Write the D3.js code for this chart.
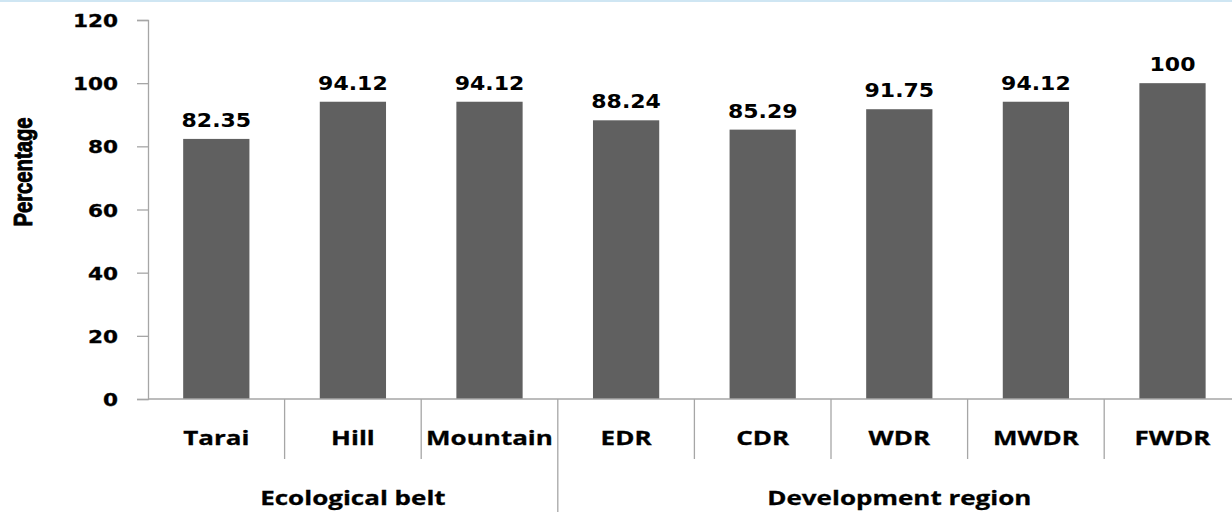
<!DOCTYPE html>
<html lang="en">
<head>
<meta charset="utf-8">
<script src="https://d3js.org/d3.v7.min.js"></script>
<title>Percentage by ecological belt and development region</title>
<style>
	body { margin:0; background:#fff; }
	.bar { fill:#606060; }
	.axisline { stroke:#a6a6a6; stroke-width:1.3px; fill:none; }
	.tick-label { font-family:"DejaVu Sans", Verdana, sans-serif; font-weight:bold; font-size:18px; fill:#000; stroke:#000; stroke-width:0.3px; }
	.value-label { font-family:"DejaVu Sans", Verdana, sans-serif; font-weight:bold; font-size:20px; fill:#000; }
	.cat-label { font-family:"Open Sans", Calibri, sans-serif; font-weight:bold; font-size:20px; fill:#000; stroke:#000; stroke-width:0.3px; }
	.y-title { font-family:"Liberation Sans", Arial, sans-serif; font-weight:bold; font-size:26px; fill:#000; stroke:#000; stroke-width:0.9px; }
</style>
</head>
<body>
<script>
var categories = ["Tarai","Hill","Mountain","EDR","CDR","WDR","MWDR","FWDR"];
var values = [82.35, 94.12, 94.12, 88.24, 85.29, 91.75, 94.12, 100];
var groups = ["Ecological belt","Development region"];
var groupSizes = [3, 5];
var yTicks = [0, 20, 40, 60, 80, 100, 120];

var W = 1232, H = 512;
var plotLeft = 148, band = 136.6;
var plotTop = 20, plotBottom = 399;

var svg = d3.select("body").append("svg")
	.attr("width", W).attr("height", H);

// thin blue frame edge at the top
svg.append("rect").attr("x",0).attr("y",0).attr("width",W).attr("height",2).attr("fill","#cfe6f3");

var x = d3.scaleBand().domain(categories)
	.range([plotLeft, plotLeft + band*categories.length]).paddingInner(0.515).paddingOuter(0.2575);
var y = d3.scaleLinear().domain([0,120]).range([plotBottom, plotTop]);

// bars
svg.selectAll(".bar").data(categories).enter().append("rect")
	.attr("class","bar")
	.attr("x", function(d){ return x(d); })
	.attr("width", x.bandwidth())
	.attr("y", function(d,i){ return y(values[i]); })
	.attr("height", function(d,i){ return plotBottom - y(values[i]); });

// y axis
var yAxis = svg.append("g").attr("transform","translate("+plotLeft+",0)")
	.call(d3.axisLeft(y).tickValues(yTicks).tickSize(11).tickPadding(0).tickFormat(""));
yAxis.selectAll("path,line").attr("class","axisline");
yAxis.select(".domain").attr("d","M0,"+plotTop+"V"+H);

yTicks.forEach(function(t){
	svg.append("text").attr("class","tick-label")
		.attr("text-anchor","end")
		.attr("transform","translate(118,"+(y(t)+7)+") scale(1.2,1)")
		.text(t);
});

svg.append("text").attr("class","y-title")
	.attr("text-anchor","middle")
	.attr("transform","translate(32,172) rotate(-90) scale(0.78,1)")
	.text("Percentage");

// x axis baseline
svg.append("line").attr("class","axisline")
	.attr("x1",plotLeft).attr("x2",W).attr("y1",plotBottom).attr("y2",plotBottom);

// separators between categories and groups
var groupEnds = [];
var acc = 0;
groupSizes.forEach(function(n){ acc += n; groupEnds.push(acc); });
for (var i = 1; i <= categories.length; i++) {
	var xs = plotLeft + band*i;
	var isGroup = groupEnds.indexOf(i) >= 0;
	svg.append("line").attr("class","axisline")
		.attr("x1",xs).attr("x2",xs)
		.attr("y1",plotBottom).attr("y2", isGroup ? H : 459);
}

// category labels
categories.forEach(function(c){
	svg.append("text").attr("class","cat-label")
		.attr("text-anchor","middle")
		.attr("transform","translate("+(x(c)+x.bandwidth()/2)+",445) scale(1.3,1)")
		.text(c);
});

// group labels
var start = 0;
groups.forEach(function(g,i){
	var x0 = plotLeft + band*start, x1 = plotLeft + band*(start+groupSizes[i]);
	svg.append("text").attr("class","cat-label")
		.attr("text-anchor","middle")
		.attr("transform","translate("+((x0+x1)/2)+",505) scale(1.3,1)")
		.text(g);
	start += groupSizes[i];
});

// value labels
categories.forEach(function(c,i){
	svg.append("text").attr("class","value-label")
		.attr("text-anchor","middle")
		.attr("transform","translate("+(x(c)+x.bandwidth()/2)+","+(y(values[i])-12)+") scale(1.1,1)")
		.text(values[i]);
});
</script>
</body>
</html>
